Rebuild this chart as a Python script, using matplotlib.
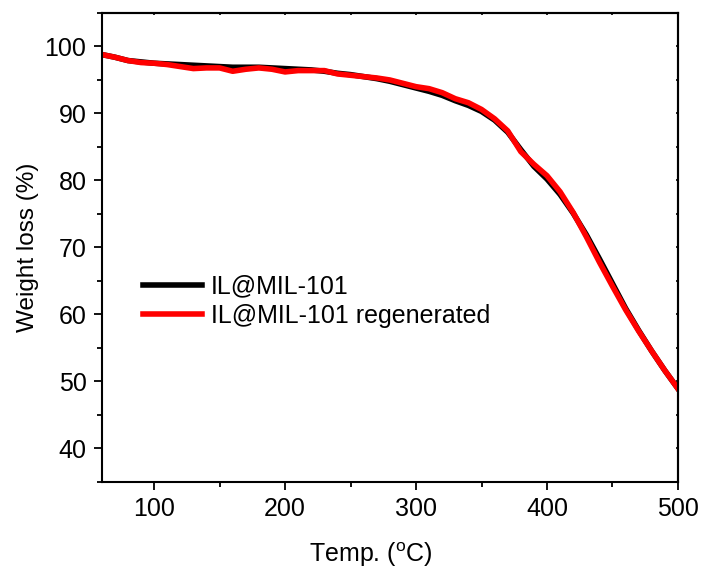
import numpy as np
import matplotlib
matplotlib.use("Agg")
import matplotlib.pyplot as plt
from matplotlib.ticker import MultipleLocator

plt.rcParams['font.family'] = ['Liberation Sans', 'DejaVu Sans']
plt.rcParams['mathtext.fontset'] = 'custom'
plt.rcParams['mathtext.rm'] = 'Liberation Sans'

# data
temp = [60, 70, 80, 90, 100, 110, 120, 130, 140, 150, 160, 170, 180, 190, 200,
        210, 220, 230, 240, 250, 260, 270, 280, 290, 300, 310, 320, 330, 340, 350,
        360, 370, 380, 390, 400, 410, 420, 430, 440, 450, 460, 470, 480, 490, 500]

fresh = [98.8, 98.4, 97.9, 97.7, 97.5, 97.4, 97.3, 97.2, 97.1, 97.0, 96.9, 96.9, 96.9, 96.8, 96.7,
         96.6, 96.5, 96.3, 96.0, 95.8, 95.5, 95.2, 94.8, 94.3, 93.8, 93.3, 92.7, 91.9, 91.2, 90.3,
         89.0, 87.2, 84.6, 82.1, 80.2, 77.9, 75.1, 71.9, 68.3, 64.6, 60.9, 57.6, 54.5, 51.6, 48.9]

regen = [98.8, 98.4, 97.9, 97.6, 97.5, 97.3, 97.0, 96.7, 96.8, 96.8, 96.3, 96.6, 96.8, 96.6, 96.2,
         96.4, 96.4, 96.4, 95.9, 95.7, 95.5, 95.3, 95.0, 94.5, 94.0, 93.7, 93.1, 92.2, 91.6, 90.6,
         89.2, 87.4, 84.3, 82.4, 80.7, 78.3, 75.2, 71.6, 67.8, 64.2, 60.7, 57.5, 54.5, 51.6, 48.9]

labels = ["IL@MIL-101", "IL@MIL-101 regenerated"]

fig = plt.figure(figsize=(7.04, 5.73), dpi=100)
ax = fig.add_axes([0.1445, 0.1593, 0.8185, 0.8180])

ax.plot(temp, fresh, color="black", lw=4, label=labels[0])
ax.plot(temp, regen, color="red", lw=4, label=labels[1])

ax.set_xlim(60, 500)
ax.set_ylim(35, 105)
ax.xaxis.set_major_locator(MultipleLocator(100))
ax.xaxis.set_minor_locator(MultipleLocator(50))
ax.yaxis.set_major_locator(MultipleLocator(10))
ax.yaxis.set_minor_locator(MultipleLocator(5))

ax.tick_params(which="major", direction="out", length=6, width=1.3, labelsize=18, pad=5)
ax.tick_params(which="minor", direction="out", length=3.5, width=1.3)

# tiny ticks on the top and right frame
sec_x = ax.secondary_xaxis("top")
sec_x.xaxis.set_major_locator(MultipleLocator(50))
sec_x.tick_params(direction="in", length=1.5, width=1.2, labeltop=False)
sec_y = ax.secondary_yaxis("right")
sec_y.yaxis.set_major_locator(MultipleLocator(5))
sec_y.tick_params(direction="in", length=1.5, width=1.2, labelright=False)
for s in list(ax.spines.values()) + [sec_x.spines["top"], sec_y.spines["right"]]:
    s.set_linewidth(1.5)

ax.set_xlabel("Temp. ($^{\\mathrm{o}}$C)", fontsize=18)
ax.xaxis.set_label_coords(0.467, -0.125)
ax.set_ylabel("Weight loss (%)", fontsize=17.5, labelpad=4)

ax.legend(loc="upper left", bbox_to_anchor=(0.033, 0.49), frameon=False,
          fontsize=18, handlelength=2.35, handletextpad=0.35, labelspacing=0.2)

fig.savefig("out.png", dpi=100)
